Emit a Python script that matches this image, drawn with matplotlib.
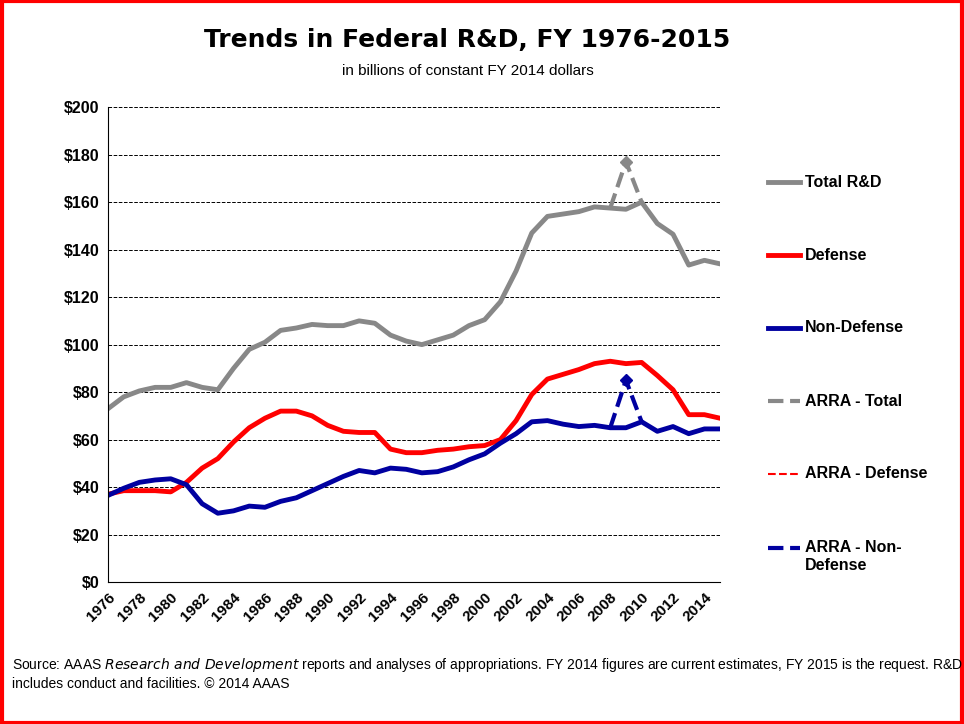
import matplotlib
matplotlib.use("Agg")
import numpy as np
import matplotlib.pyplot as plt
from matplotlib.patches import Rectangle

plt.rcParams['font.family'] = ['Liberation Sans', 'DejaVu Sans']

years = list(range(1976, 2016))
total = [73, 78, 80.5, 82, 82, 84, 82, 81, 90, 98, 101, 106, 107, 108.5, 108, 108,
         110, 109, 104, 101.5, 100, 102, 104, 108, 110.5, 118, 131, 147, 154, 155,
         156, 158, 157.5, 157, 160, 151, 146.5, 133.5, 135.5, 134]
defense = [37, 38.5, 38.5, 38.5, 38, 42, 48, 52, 59, 65, 69, 72, 72, 70, 66, 63.5,
           63, 63, 56, 54.5, 54.5, 55.5, 56, 57, 57.5, 60, 68, 79, 85.5, 87.5,
           89.5, 92, 93, 92, 92.5, 87, 81, 70.5, 70.5, 69]
nondefense = [36.5, 39.5, 42, 43, 43.5, 41, 33, 29, 30, 32, 31.5, 34, 35.5, 38.5,
              41.5, 44.5, 47, 46, 48, 47.5, 46, 46.5, 48.5, 51.5, 54, 58.5, 62.5,
              67.5, 68, 66.5, 65.5, 66, 65, 65, 67.5, 63.5, 65.5, 62.5, 64.5, 64.5]
arra_years = [2008, 2009, 2010]
arra_total = [157.5, 177, 160]
arra_nondef = [65, 85, 67.5]

GREY = "#888888"
RED = "#ff0000"
BLUE = "#0000a0"

fig = plt.figure(figsize=(9.64, 7.24), dpi=100)
fig.patches.append(Rectangle((0.002, 0.002), 0.996, 0.996, transform=fig.transFigure,
                             fill=False, edgecolor="red", linewidth=3))

ax = fig.add_axes([0.112, 0.196, 0.635, 0.656])
ax.plot(arra_years, arra_total, color=GREY, lw=3, ls="--")
ax.plot([2009], [arra_total[1]], marker="D", color=GREY, ms=6)
ax.plot(arra_years, arra_nondef, color=BLUE, lw=3, ls="--")
ax.plot([2009], [arra_nondef[1]], marker="D", color=BLUE, ms=6)
ax.plot(years, total, color=GREY, lw=3.5)
ax.plot(years, defense, color=RED, lw=3.5)
ax.plot(years, nondefense, color=BLUE, lw=3.5)

ax.set_xlim(1976, 2015)
ax.set_ylim(0, 200)
ax.set_yticks(range(0, 201, 20))
ax.set_yticklabels([f"${v}" for v in range(0, 201, 20)], fontweight="bold", fontsize=11.5)
ax.set_xticks(range(1976, 2015, 2))
ax.set_xticklabels([str(y) for y in range(1976, 2015, 2)], rotation=45, ha="right",
                   rotation_mode="anchor", fontweight="bold", fontsize=11)
ax.grid(axis="y", color="black", ls="--", lw=0.7)
for s in ["top", "right"]:
    ax.spines[s].set_visible(False)
ax.tick_params(length=0, pad=6)

fig.text(0.485, 0.935, "Trends in Federal R&D, FY 1976-2015", ha="center",
         fontsize=18, fontweight="bold", family="DejaVu Sans")
fig.text(0.485, 0.897, "in billions of constant FY 2014 dollars", ha="center", fontsize=11)

# legend drawn by hand
legend = [("Total R&D", GREY, "-", 3.5, 182), ("Defense", RED, "-", 3.5, 255),
          ("Non-Defense", BLUE, "-", 3.5, 328), ("ARRA - Total", GREY, "--", 3, 401),
          ("ARRA - Defense", RED, "--", 1.5, 474), ("ARRA - Non-\nDefense", BLUE, "--", 3, 548)]
for label, c, ls, lw, py in legend:
    y = 1 - py / 724
    fig.add_artist(plt.Line2D([768 / 964, 800 / 964], [y, y], color=c, ls=ls, lw=lw))
    va_y = y if "\n" not in label else y - 0.012
    fig.text(805 / 964, va_y, label, va="center", fontsize=11.5, fontweight="bold",
             linespacing=1.3)

fig.text(0.012, 0.07, "Source: AAAS $\\it{Research\\ and\\ Development}$ reports and analyses of "
         "appropriations. FY 2014 figures are current estimates, FY 2015 is the request. R&D\n"
         "includes conduct and facilities. © 2014 AAAS", fontsize=10, va="center",
         linespacing=1.3)

fig.savefig("out.png", dpi=100)
